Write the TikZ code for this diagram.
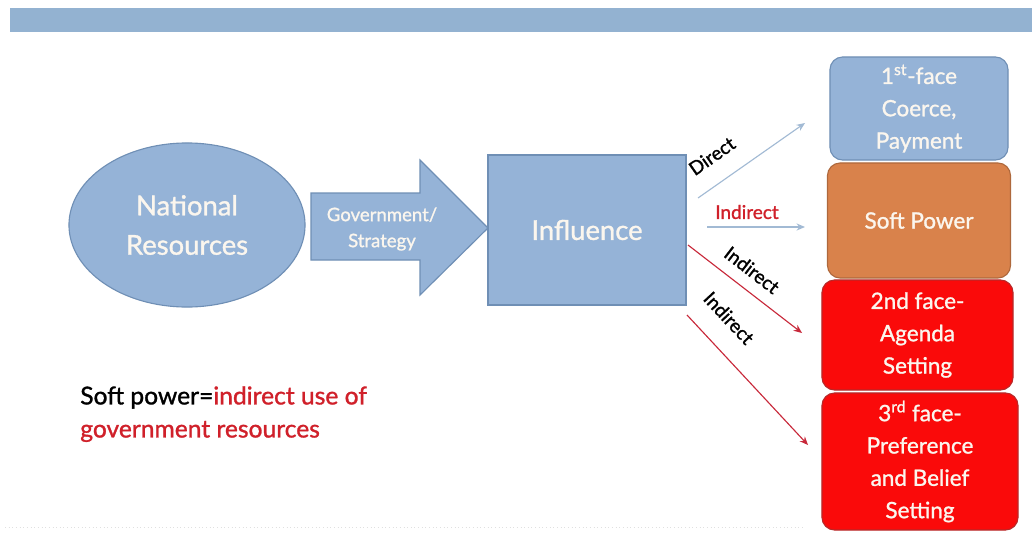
\documentclass[tikz,border=0pt]{standalone}
\usepackage{fontspec}
\setmainfont{Lato}[RawFeature={embolden=1.2}]
\usetikzlibrary{arrows.meta,shapes.geometric}
\definecolor{barblue}{HTML}{93B2D1}
\definecolor{paleblue}{HTML}{95B3D7}
\definecolor{edgeblue}{HTML}{6F8FB5}
\definecolor{softorange}{HTML}{D9824B}
\definecolor{boxred}{HTML}{FA0A0A}
\definecolor{edgered}{HTML}{B82828}
\definecolor{linkblue}{HTML}{A2BAD4}
\definecolor{linkred}{HTML}{C8283A}
\definecolor{textred}{HTML}{D0202A}
\definecolor{offwhite}{HTML}{FBF6EE}
\tikzset{
  shapebox/.style={draw=edgeblue, line width=0.8pt, fill=paleblue, text=offwhite},
  facebox/.style={rounded corners=9pt, line width=0.8pt, text=offwhite, align=center,
    font=\fontsize{16}{23}\selectfont},
  bluelink/.style={draw=linkblue, line width=0.8pt, -{Stealth[length=6pt,width=5pt]}},
  redlink/.style={draw=linkred, line width=0.8pt, -{Stealth[length=6pt,width=5pt]}},
  linklabel/.style={font=\fontsize{13.5}{15}\selectfont, inner sep=0pt},
}
\begin{document}
\begin{tikzpicture}[x=0.025cm, y=-0.025cm]
\useasboundingbox (0,0) rectangle (1032,547);
\fill[white] (0,0) rectangle (1032,547);

% title bar
\fill[barblue] (10,8) rectangle (1032,32);

% faint rule along the bottom
\draw[black!12, line width=0.6pt, dotted] (5,527) -- (805,527);

% resources ellipse
\node[shapebox, ellipse, minimum width=5.9cm, minimum height=4.1cm, align=center,
      font=\fontsize{19.5}{28}\selectfont] (res) at (187,225) {National\\Resources};

% block arrow for government strategy
\draw[shapebox] (311,193) -- (420,193) -- (420,160) -- (488,228) -- (420,295)
      -- (420,260) -- (311,260) -- cycle;
\node[text=offwhite, align=center, font=\fontsize{13.2}{18.5}\selectfont] (gov) at (382,229)
      {Government/\\Strategy};

% influence box
\node[shapebox, rectangle, minimum width=4.95cm, minimum height=3.75cm,
      font=\fontsize{19.5}{24}\selectfont] (infl) at (587,230) {Influence};

% faces of power
\node[facebox, draw=edgeblue, fill=paleblue, minimum width=4.45cm, minimum height=2.575cm]
      (face1) at (919,108.5) {1\textsuperscript{st}-face\\Coerce,\\Payment};
\node[facebox, draw=softorange!80!black, fill=softorange, minimum width=4.575cm,
      minimum height=2.875cm] (soft) at (919,220.5) {Soft Power};
\node[facebox, draw=edgered, fill=boxred, minimum width=4.775cm, minimum height=2.75cm]
      (face2) at (917.5,335) {2nd face-\\Agenda\\Setting};
\node[facebox, draw=edgered, fill=boxred, minimum width=4.9cm, minimum height=3.425cm]
      (face3) at (920,461.5) {3\textsuperscript{rd} face-\\Preference\\and Belief\\Setting};

% link end points
\coordinate (d0) at (698,198);
\coordinate (d1) at (805,123);
\coordinate (i0) at (707,227);
\coordinate (i1) at (805,227);
\coordinate (j0) at (688,245);
\coordinate (j1) at (802,333);
\coordinate (k0) at (687,315);
\coordinate (k1) at (808,445);

\draw[bluelink] (d0) -- (d1);
\draw[bluelink] (i0) -- (i1);
\draw[redlink] (j0) -- (j1);
\draw[redlink] (k0) -- (k1);

% link labels
\node[linklabel, rotate=35] (ldirect) at (712,156) {Direct};
\node[linklabel, text=textred] (lind1) at (747,212) {Indirect};
\node[linklabel, rotate=-37.7] (lind2) at (752,270) {Indirect};
\node[linklabel, rotate=-47] (lind3) at (729,318) {Indirect};

% definition
\node[anchor=north west, align=left, inner sep=0pt, font=\fontsize{17.5}{23.5}\selectfont]
      (def) at (80,386) {Soft power=\textcolor{textred}{indirect use of}\\
      \textcolor{textred}{government resources}};
\end{tikzpicture}
\end{document}
